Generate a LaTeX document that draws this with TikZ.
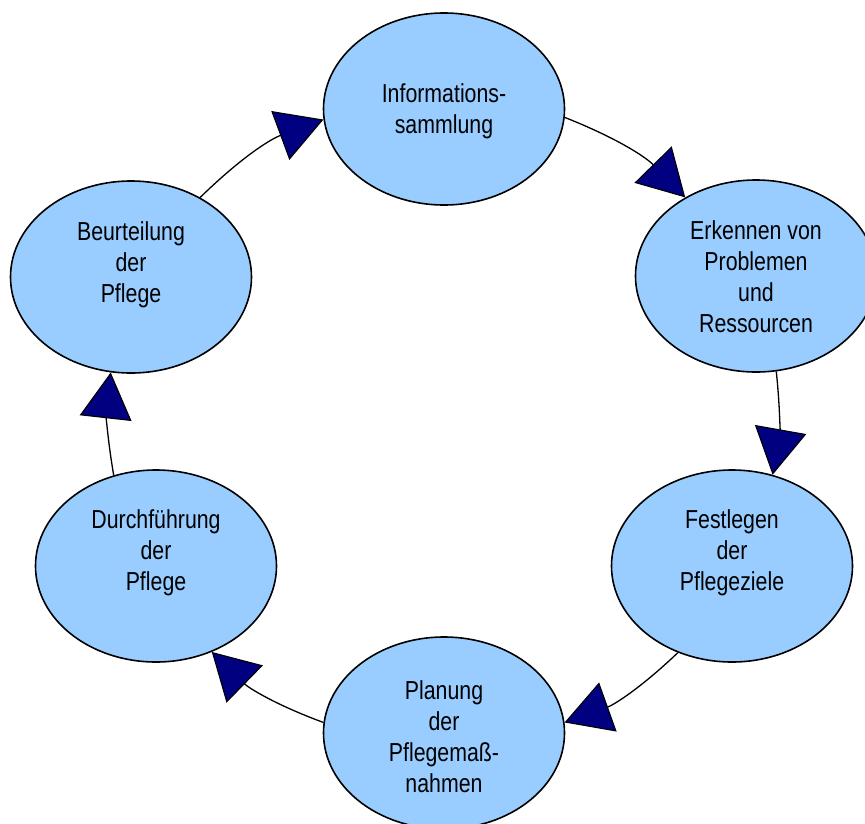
\documentclass[tikz,border=0pt]{standalone}
\usepackage{fontspec}
\setmainfont{Liberation Sans}
\newfontfamily\narrowfont[FakeStretch=0.82]{Liberation Sans}
\usetikzlibrary{arrows.meta,shapes.geometric}
\definecolor{ellfill}{HTML}{99CCFF}
\definecolor{navyhead}{HTML}{000080}
\begin{document}
\begin{tikzpicture}[x=1pt,y=-1pt,
  stage/.style={ellipse,draw=black,line width=1.6pt,fill=ellfill,minimum width=241pt,minimum height=192pt,inner sep=0pt},
  lbl/.style={align=center,font=\narrowfont\fontsize{26}{31}\selectfont,inner sep=0pt},
  flow/.style={draw=black,line width=1.3pt,-{Triangle[length=46pt,width=52pt,fill=navyhead,line width=1.1pt]}}]
\useasboundingbox (0,0) rectangle (865,823);
\clip (0,0) rectangle (865,823);
\node[stage] (e1) at (444,109) {};
\node[stage] (e2) at (756,276) {};
\node[stage] (e3) at (732,566) {};
\node[stage] (e4) at (444,733) {};
\node[stage] (e5) at (156,566) {};
\node[stage] (e6) at (131,277) {};
\node[lbl] (t1) at (444,111) {Informations-\\sammlung};
\node[lbl] (t2) at (756,277) {Erkennen von\\Problemen\\und\\Ressourcen};
\node[lbl] (t3) at (732,553) {Festlegen\\der\\Pflegeziele};
\node[lbl] (t4) at (444,737) {Planung\\der\\Pflegemaß-\\nahmen};
\node[lbl] (t5) at (156,553) {Durchführung\\der\\Pflege};
\node[lbl] (t6) at (131,265) {Beurteilung\\der\\Pflege};
\draw[flow] (e1.-4) to[bend left=12] (e2.132);
\draw[flow] (e2.-78) to[bend left=8] (e3.66);
\draw[flow] (e3.238) to[bend left=12] (e4.5);
\draw[flow] (e4.175) to[bend left=12] (e5.-57);
\draw[flow] (e5.115) to[bend left=8] (e6.-102);
\draw[flow] (e6.49) to[bend left=12] (e1.185);
\end{tikzpicture}
\end{document}
